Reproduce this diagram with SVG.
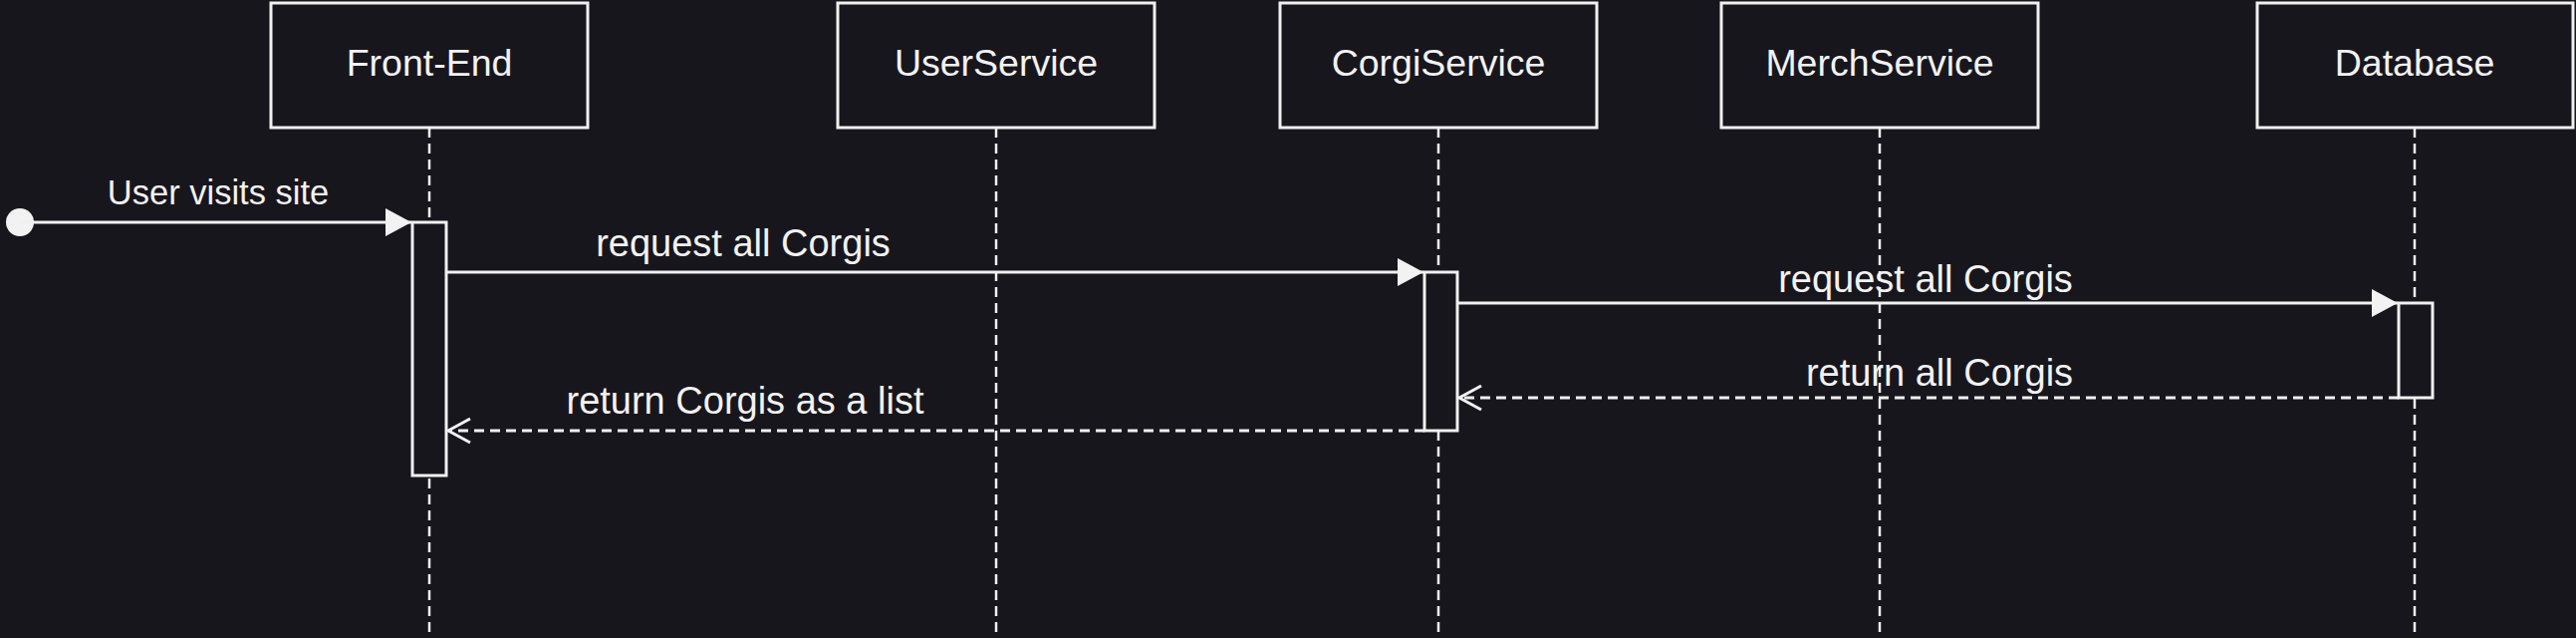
<svg xmlns="http://www.w3.org/2000/svg" width="2586" height="640" viewBox="0 0 2586 640">
<style>
.bg{fill:#18161d}
.box{fill:#18161d;stroke:#f0f0f0;stroke-width:3}
.life{stroke:#f0f0f0;stroke-width:2.5;stroke-dasharray:10 6;fill:none}
.act{fill:#18161d;stroke:#f0f0f0;stroke-width:3}
.msg{stroke:#f0f0f0;stroke-width:3;fill:none}
.ret{stroke:#f0f0f0;stroke-width:3;fill:none;stroke-dasharray:10 6}
.lbl{font-family:"Liberation Sans",Arial,Helvetica,sans-serif;font-size:37.5px;fill:#f2f2f2;text-anchor:middle}
.mlbl{font-family:"Liberation Sans",Arial,Helvetica,sans-serif;font-size:38px;fill:#f2f2f2;text-anchor:middle}
</style>
<defs>
<marker id="block" markerUnits="userSpaceOnUse" markerWidth="28" markerHeight="30" refX="26" refY="15" orient="auto" overflow="visible"><path d="M0,1 L26,15 L0,29 Z" fill="#f2f2f2"/></marker>
<marker id="open" markerUnits="userSpaceOnUse" markerWidth="26" markerHeight="30" refX="24" refY="15" orient="auto" overflow="visible"><path d="M2,3 L24,15 L2,27" fill="none" stroke="#f2f2f2" stroke-width="3" stroke-dasharray="none"/></marker>
</defs>
<rect class="bg" x="0" y="0" width="2586" height="640"/>
<g id="lifelines">
<line class="life" x1="431" y1="128" x2="431" y2="640"/>
<line class="life" x1="1000" y1="128" x2="1000" y2="640"/>
<line class="life" x1="1444" y1="128" x2="1444" y2="640"/>
<line class="life" x1="1887" y1="128" x2="1887" y2="640"/>
<line class="life" x1="2424" y1="128" x2="2424" y2="640"/>
</g>
<g id="node-frontend"><rect class="box" x="272" y="3" width="318" height="125"/><text class="lbl" x="431" y="76">Front-End</text></g>
<g id="node-userservice"><rect class="box" x="841" y="3" width="318" height="125"/><text class="lbl" x="1000" y="76">UserService</text></g>
<g id="node-corgiservice"><rect class="box" x="1285" y="3" width="318" height="125"/><text class="lbl" x="1444" y="76">CorgiService</text></g>
<g id="node-merchservice"><rect class="box" x="1728" y="3" width="318" height="125"/><text class="lbl" x="1887" y="76">MerchService</text></g>
<g id="node-database"><rect class="box" x="2266" y="3" width="317" height="125"/><text class="lbl" x="2424" y="76">Database</text></g>
<g id="activations">
<rect id="act-frontend" class="act" x="414" y="223" width="34" height="254"/>
<rect id="act-corgi" class="act" x="1430" y="273" width="33" height="159"/>
<rect id="act-database" class="act" x="2408" y="304" width="34" height="95"/>
</g>
<g id="connectors">
<circle cx="20" cy="223" r="14" fill="#f2f2f2"/>
<line class="msg" x1="20" y1="223" x2="413" y2="223" marker-end="url(#block)"/>
<line class="msg" x1="448" y1="273" x2="1429" y2="273" marker-end="url(#block)"/>
<line class="msg" x1="1463" y1="304" x2="2407" y2="304" marker-end="url(#block)"/>
<line class="ret" x1="2408" y1="399" x2="1465" y2="399" marker-end="url(#open)"/>
<line class="ret" x1="1430" y1="432" x2="450" y2="432" marker-end="url(#open)"/>
</g>
<g id="labels">
<text class="mlbl" x="219" y="205" style="font-size:34.5px">User visits site</text>
<text class="mlbl" x="746" y="257">request all Corgis</text>
<text class="mlbl" x="1933" y="293">request all Corgis</text>
<text class="mlbl" x="1947" y="387">return all Corgis</text>
<text class="mlbl" x="748" y="415">return Corgis as a list</text>
</g>
</svg>
